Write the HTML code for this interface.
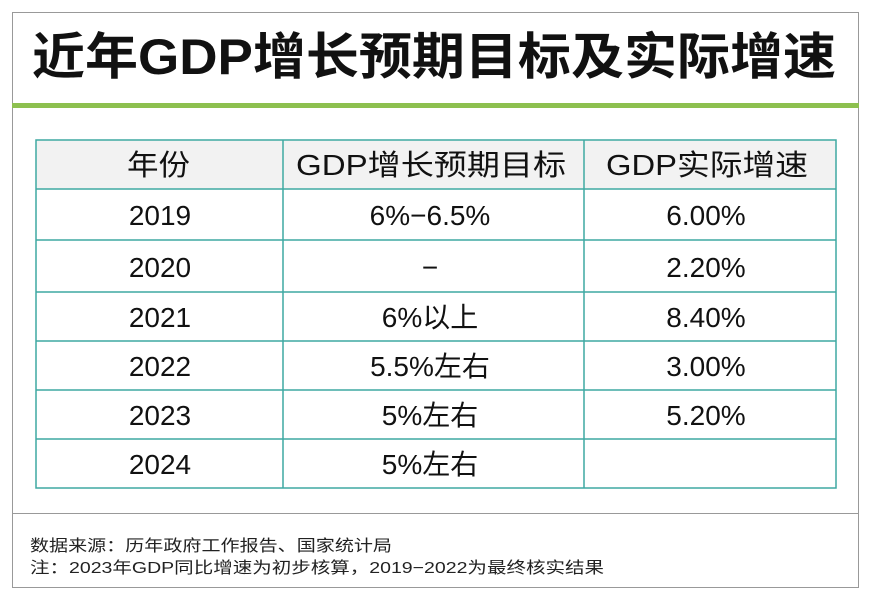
<!DOCTYPE html>
<html><head><meta charset="utf-8"><style>
html,body{margin:0;padding:0;background:#fff;}
svg{display:block;}
text{font-family:"Liberation Sans","Noto Sans CJK SC",sans-serif;}
</style></head><body>
<svg width="882" height="599" viewBox="0 0 882 599">
<rect x="0" y="0" width="882" height="599" fill="#fff"/>
<rect x="12.5" y="12.5" width="846" height="575" fill="#fff" stroke="#999" stroke-width="1"/>
<text x="32" y="74" font-size="50" font-weight="bold" fill="#111" textLength="804" lengthAdjust="spacingAndGlyphs">近年GDP增长预期目标及实际增速</text>
<rect x="12" y="103" width="847" height="5" fill="#8dc04f"/>
<rect x="36" y="140" width="800" height="49" fill="#f2f2f2"/>
<g stroke="#3fa9a2" stroke-width="1.5" fill="none">
<rect x="36" y="140" width="800" height="348"/>
<line x1="283" y1="140" x2="283" y2="488"/>
<line x1="584" y1="140" x2="584" y2="488"/>
<line x1="36" y1="189" x2="836" y2="189"/>
<line x1="36" y1="240" x2="836" y2="240"/>
<line x1="36" y1="292" x2="836" y2="292"/>
<line x1="36" y1="341" x2="836" y2="341"/>
<line x1="36" y1="390" x2="836" y2="390"/>
<line x1="36" y1="439" x2="836" y2="439"/>
</g>
<g font-size="29" fill="#111">
<text x="127" y="175" textLength="63" lengthAdjust="spacingAndGlyphs">年份</text>
<text x="296" y="175" textLength="270" lengthAdjust="spacingAndGlyphs">GDP增长预期目标</text>
<text x="606" y="175" textLength="202" lengthAdjust="spacingAndGlyphs">GDP实际增速</text>
</g>
<g font-size="28" fill="#111" text-anchor="middle">
<text x="160" y="225">2019</text><text x="430" y="225">6%−6.5%</text><text x="706" y="225">6.00%</text>
<text x="160" y="277">2020</text><text x="430" y="277">−</text><text x="706" y="277">2.20%</text>
<text x="160" y="327">2021</text><text x="430" y="327">6%以上</text><text x="706" y="327">8.40%</text>
<text x="160" y="376">2022</text><text x="430" y="376">5.5%左右</text><text x="706" y="376">3.00%</text>
<text x="160" y="425">2023</text><text x="430" y="425">5%左右</text><text x="706" y="425">5.20%</text>
<text x="160" y="474">2024</text><text x="430" y="474">5%左右</text>
</g>
<line x1="12" y1="513.5" x2="859" y2="513.5" stroke="#999" stroke-width="1"/>
<text x="30" y="551" font-size="16" fill="#222" textLength="362" lengthAdjust="spacingAndGlyphs">数据来源：历年政府工作报告、国家统计局</text>
<text x="30" y="573" font-size="16" fill="#222" textLength="574" lengthAdjust="spacingAndGlyphs">注：2023年GDP同比增速为初步核算，2019−2022为最终核实结果</text>
</svg>
</body></html>
